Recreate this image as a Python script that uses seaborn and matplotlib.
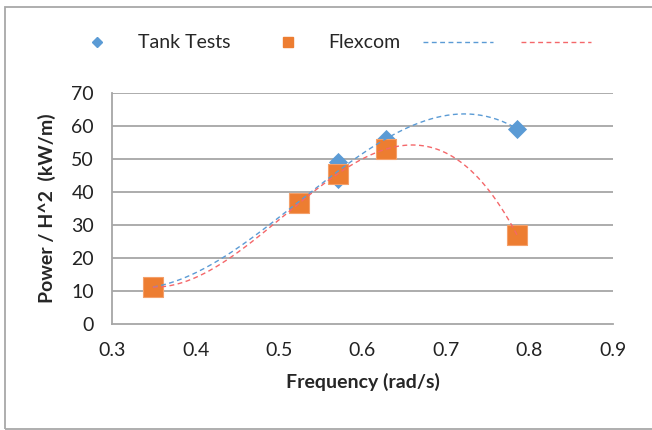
import numpy as np
import pandas as pd
import matplotlib
matplotlib.use("Agg")
import matplotlib.pyplot as plt
from matplotlib.lines import Line2D
from matplotlib.patches import Rectangle
import seaborn as sns

# Measured power per wave height squared vs. wave frequency
tank_freq = [0.349, 0.524, 0.571, 0.571, 0.628, 0.785]
tank_power = [11.2, 37.0, 44.0, 49.0, 56.0, 59.2]
flex_freq = [0.349, 0.524, 0.571, 0.628, 0.785]
flex_power = [11.2, 36.6, 45.6, 53.0, 27.0]

x_ticks = [0.3, 0.4, 0.5, 0.6, 0.7, 0.8, 0.9]
y_ticks = [0, 10, 20, 30, 40, 50, 60, 70]

BLUE = "#5B9BD5"
ORANGE = "#ED7D31"
RED = "#F4676A"
GRID = "#A6A6A6"
FS = 14

sns.set_style("white")
plt.rcParams["font.family"] = ["Lato", "DejaVu Sans"]

tank = pd.DataFrame({"freq": tank_freq, "power": tank_power})
flex = pd.DataFrame({"freq": flex_freq, "power": flex_power})

# Third-order polynomial trend lines over the measured range
def trend(df):
    coef = np.polyfit(df["freq"], df["power"], 3)
    xs = np.linspace(min(df["freq"]), max(df["freq"]), 200)
    return pd.DataFrame({"freq": xs, "power": np.polyval(coef, xs)})

tank_fit = trend(tank)
flex_fit = trend(flex)

W, H = 652, 430
fig = plt.figure(figsize=(W / 100, H / 100), dpi=100)
ax = fig.add_axes([112 / W, (H - 324) / H, (613 - 112) / W, (324 - 93) / H])

# Chart frame
fig.patches.append(Rectangle((4.5 / W, 0.8 / H), 2.0, (H - 7.3) / H,
                             transform=fig.transFigure, fill=False,
                             edgecolor="#A8A8A8", lw=1.3, zorder=0))

for y in y_ticks[1:]:
    ax.axhline(y, color=GRID, lw=1.3, zorder=0)

dash = (0, (3.5, 2.5))
sns.scatterplot(data=tank, x="freq", y="power", marker="D", s=95,
                color=BLUE, edgecolor=BLUE, linewidth=0, ax=ax, zorder=3)
sns.scatterplot(data=flex, x="freq", y="power", marker="s", s=200,
                color=ORANGE, edgecolor="#F4A06A", linewidth=0.8, ax=ax, zorder=4)
sns.lineplot(data=tank_fit, x="freq", y="power", color=BLUE, lw=1.0,
             ax=ax, zorder=5, linestyle=dash)
sns.lineplot(data=flex_fit, x="freq", y="power", color=RED, lw=1.0,
             ax=ax, zorder=5, linestyle=dash)

ax.set_xlim(0.3, 0.9)
ax.set_ylim(0, 70)
ax.set_xticks(x_ticks)
ax.set_yticks(y_ticks)
ax.set_xticklabels([f"{v:.1f}" for v in x_ticks])
ax.set_yticklabels([str(v) for v in y_ticks])
ax.tick_params(axis="both", labelsize=FS, labelcolor="#222222", length=5,
               width=1.0, direction="out", pad=8, color=GRID)
for side in ["top", "right"]:
    ax.spines[side].set_visible(False)
for side in ["left", "bottom"]:
    ax.spines[side].set_color(GRID)
    ax.spines[side].set_linewidth(1.3)

ax.set_xlabel("Frequency (rad/s)", fontsize=FS, fontweight="bold", labelpad=10)
ax.set_ylabel("Power / H^2  (kW/m)", fontsize=FS, fontweight="bold", labelpad=11)

handles = [
    Line2D([], [], marker="D", color=BLUE, linestyle="none", markersize=5.2),
    Line2D([], [], marker="s", color=ORANGE, linestyle="none", markersize=6.8),
    Line2D([], [], color=BLUE, lw=1.0, linestyle=dash),
    Line2D([], [], color=RED, lw=1.0, linestyle=dash),
]
fig.legend(handles, ["Tank Tests", "Flexcom", "", ""], ncol=4,
           loc="center left", bbox_to_anchor=((62 - 0.4 * FS * 100 / 72) / W, 1 - 43 / H),
           frameon=False, fontsize=FS, handlelength=3.6, borderaxespad=0,
           handletextpad=0.3, columnspacing=1.15)

fig.savefig("out.png", dpi=100)
